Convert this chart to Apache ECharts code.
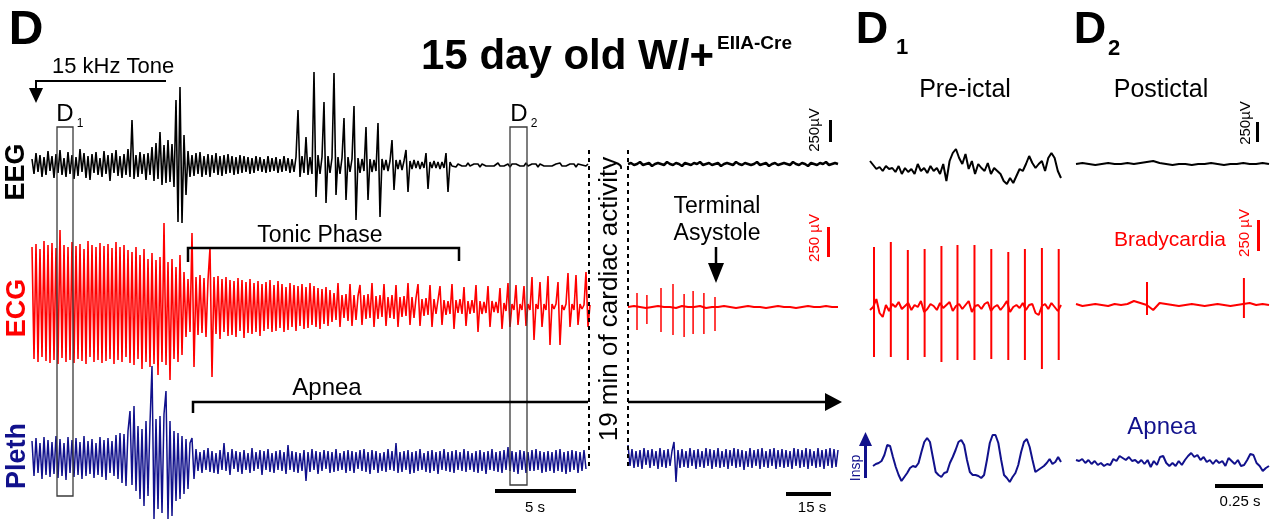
<!DOCTYPE html>
<html>
<head>
<meta charset="utf-8">
<title>15 day old W/+ EIIA-Cre</title>
<script src="https://cdn.jsdelivr.net/npm/echarts@6/dist/echarts.min.js"></script>
<style>
  html, body { margin: 0; background: #fff; }
  #chart { width: 1279px; height: 520px; }
</style>
</head>
<body>
<div id="chart"></div>
<script>
// amplitudes are in trace units (1 unit ~ 1/25 of the 250 uV bar for EEG), time in seconds
// main recording: one sample every 0.125 s, alternating peak/trough of the trace
const MAIN_STEP = 0.125;
const eegMain = [
  6,-9,12,-7,10,-12,8,-10,14,-6,
  9,-13,11,-8,15,-10,7,-12,13,-9,
  10,-14,8,-11,16,-7,12,-13,9,-15,
  11,-8,13,-10,7,-12,14,-9,10,-16,
  12,-8,15,-11,9,-13,11,-10,16,-12,
  45,-14,10,-12,13,-9,11,-15,12,-10,
  18,-16,22,-14,33,-20,20,-18,25,-17,
  21,-22,65,-57,78,-58,30,-30,14,-12,
  10,-11,12,-9,13,-12,9,-10,11,-12,
  10,-8,12,-10,9,-11,10,-9,11,-8,
  9,-10,8,-9,10,-8,9,-7,8,-9,
  7,-8,9,-6,8,-7,6,-8,9,-7,
  7,-6,8,-8,6,-7,9,-6,7,-8,
  6,-7,8,55,-12,9,-8,28,-10,8,
  -9,93,-32,10,-9,8,63,-38,9,-8,
  7,92,-30,8,-9,7,47,-35,8,-7,
  6,59,-55,7,-8,6,-6,38,-35,6,
  -7,5,-6,42,-52,6,-5,5,-6,4,
  25,-25,5,-4,5,-5,4,15,-27,4,
  -4,5,-3,4,-4,3,-3,12,-24,3,
  -3,4,-3,3,-4,3,-3,12,-27,3,
  -1,1,-2,1,0,-1,1,-1,2,-1,
  0,1,-1,1,-2,1,0,-1,1,-1,
  1,-1,0,2,-1,1,-1,0,1,-2,
  1,-1,1,0,-1,1,-1,2,-1,0,
  1,-1,1,-2,1,0,-1,1,-1,1,
  -1,0,1,-1,2,-1,1,-1,0,1,
  -1,1,-2,1,-1,0,1,-1,1
];
const ecgMain = [
  60,-52,63,-55,58,-50,66,-54,62,-56,
  64,-53,59,-57,77,-51,62,-55,60,-53,
  65,-56,61,-52,63,-54,58,-57,66,-50,
  62,-55,60,-53,64,-56,61,-54,63,-52,
  59,-57,65,-53,60,-55,62,-50,57,-56,
  55,-58,60,-52,52,-62,58,-55,48,-60,
  54,-57,47,-68,50,-55,84,-58,45,-73,
  48,-52,40,-55,52,-48,35,-30,28,-25,
  74,-60,30,-28,32,-26,29,-30,27,59,
  -70,30,-27,31,-32,28,-25,30,-29,27,
  -28,26,-30,29,-24,27,-31,25,-26,28,
  -27,24,-25,26,-29,23,-24,25,-22,27,
  -25,22,-24,26,-21,23,-25,20,-23,24,
  -20,22,-24,21,-19,23,-22,20,-21,24,
  -18,21,-20,19,-22,18,-17,20,-19,17,
  -15,14,-13,24,-20,12,-11,13,-14,23,
  -19,12,-13,11,22,-18,12,-12,13,-11,
  24,-20,11,-12,12,-10,23,-19,10,-11,
  12,-12,22,-20,10,-10,11,-9,24,-18,
  10,-11,9,23,-19,8,-9,9,-8,22,
  -20,8,-7,7,21,-18,7,-8,6,-7,
  23,-22,7,-6,8,-7,20,-19,6,-7,
  7,-6,22,-25,6,-7,5,-6,21,-20,
  6,-5,5,-6,19,-22,4,-4,24,-20,
  3,-3,22,-18,3,-3,21,-19,3,-3,
  30,-33,3,-2,25,-20,3,-3,31,-38,
  3,-2,3,25,-38,2,-3,3,34,-20,
  3,-3,32,-18,3,-2,2,35,-20,2
];
const plethMain = [
  20,-15,23,-12,18,-18,24,-14,21,-16,
  19,-13,25,-17,22,-15,18,-19,24,-12,
  21,-16,23,-14,19,-18,25,-15,20,-13,
  22,-17,18,-14,24,-16,21,-19,23,-12,
  20,-15,26,-18,28,-22,27,-25,30,50,
  -24,55,-30,35,-38,32,-45,40,-35,38,
  95,-58,42,-48,45,-52,47,70,-58,40,
  -55,30,-40,28,-38,25,-33,22,-28,18,
  23,-18,12,-10,9,-12,11,-9,13,-11,
  10,-12,8,-13,11,-9,18,-10,9,-14,
  12,-8,10,-11,9,-13,11,-9,8,-12,
  13,-10,9,-8,11,-14,10,-9,12,-11,
  8,-12,10,-9,11,-10,9,-13,16,-9,
  10,-11,9,-12,8,-10,11,-20,9,-11,
  12,-9,10,-13,9,-10,11,-8,10,-12,
  9,-11,12,-10,8,-9,10,-12,11,-10,
  10,-12,9,-8,11,-10,12,-11,9,-13,
  11,-9,10,-12,8,-10,9,-11,12,-9,
  10,-10,18,-12,9,-11,10,-9,11,-13,
  9,-12,10,-10,12,-9,8,-11,10,-12,
  11,-10,9,-13,10,-9,12,-10,9,-11,
  10,-12,11,-9,9,-10,12,-11,10,-9,
  8,-11,10,-12,11,-10,9,-13,10,-9,
  12,-10,9,-11,10,-12,11,-9,14,-10,
  10,-11,9,-13,11,-9,10,-12,9,-10,
  11,-10,12,-9,10,-12,9,-11,10,-10,
  9,-12,11,-10,12,-11,9,-13,10,-11,
  11,-9,10,-12,9,-10,11,-8
];

// after the 19 min gap (70 s shown)
const eegGap = [
  0,1,-1,0,2,-1,0,1,-2,0, 1,0,-1,2,0,-1,1,0,-2,1,
  0,-1,1,0,2,-1,0,1,-1,0, 1,-2,0,1,0,-1,2,0,-1,1,
  0,-1,0,2,-1,0,1,-2,0,1, -1,0,1,0,-1,2,0,-1,1,0,
  -2,1,0,-1,1,0,2,-1,0,1, 0
];
const ecgGapBase = [0,1,0,-1,0,1,0,0,-1,1,0,0,1,-1,0,0,1,0,-1,0,1,0,0,-1,0,1,0,0,-1,0,1,0,0,1,0,0];
const ecgGapBeatT = [3, 6.3, 11, 15, 18.7, 21.7, 25.3, 29];
const ecgGapBeatTop = [14, 12, 19, 23, 13, 16, 14, 10];
const ecgGapBeatBottom = [-23, -17, -25, -28, -30, -27, -27, -24];
const plethGap = [
  13,-8,9,-10,7,-9,8,-11,10,-7, 8,-10,9,-8,7,-11,10,-9,8,-10,
  9,-8,7,16,-24,8,-10,9,-9,7, -10,10,-8,8,-11,9,-9,7,-10,10,
  -8,9,-11,8,-9,10,-10,7,-9,9, -11,8,-8,10,-10,9,-9,8,-12,7,
  -9,10,-10,8,-8,9,-11,10,-9,7, -10,9,-8,10,-11,8,-9,9,-10,8,
  -9,7,-11,10,-8,9,-10,8,-9,10, -11,9,-8,7,-10,10,-9,8,-11,9,
  -8,10,-10,9,-9,8
];

// D1 pre-ictal (1 s)
const eegD1 = [5,1,-3,-1,-5,0,-3,-2,-6,0,-8,-2,-6,-3,-8,2,-5,-2,-7,0,-5,-2,-8,2,-15,5,13,17,8,2,12,-3,5,-8,2,-2,-5,3,-8,-2,-5,-8,-15,-18,-12,-17,-10,-3,-5,2,10,3,-2,2,5,-5,8,13,8,-5,-12];
const ecgD1Base = [-3,0,8,-6,-10,2,-4,3,0,5,-2,1,4,-3,2,0,6,-5,-2,3,1,-3,4,-1,2,5,-4,1,3,-2,2,6,-5,1,2,-2,3,5,-4,0,2,-3,1,6,-5,0,2,-1,4,-3,2,3,-6,-8,1,3,-2,4,0,-4,2];
const ecgD1BeatT = [0.021, 0.109, 0.198, 0.286, 0.374, 0.458, 0.547, 0.635, 0.724, 0.811, 0.9, 0.988];
const ecgD1BeatTop = [60, 65, 57, 58, 61, 62, 62, 58, 55, 58, 59, 58];
const ecgD1BeatBottom = [-50, -50, -53, -50, -55, -53, -53, -52, -53, -53, -62, -53];
const plethD1 = [-1,1,2,4,10,20,19,8,-2,-10,-16,-12,-8,-3,-1,-2,2,13,23,27,23,8,-7,-10,-12,-8,-7,2,8,15,23,25,20,5,-7,-10,-10,-11,-13,-10,5,22,30,30,22,5,-10,-13,-17,-12,-8,0,13,23,26,18,5,-7,-5,-3,-1,2,6,1,3,8,3];

// D2 postictal (1 s)
const eegD2 = [0,1,0,-1,0,1,0,0,1,0,1,2,3,1,0,-1,0,0,-1,0,0,1,0,-1,0,0,1,0,0,1,0];
const ecgD2Base = [1,-1,0,1,0,-1,1,0,1,4,2,0,-5,2,1,0,-1,0,1,0,-1,0,1,0,-1,0,1,2,0,1,0];
const ecgD2BeatT = [0.368, 0.87];
const ecgD2BeatTop = [23, 27];
const ecgD2BeatBottom = [-10, -13];
const plethD2 = [3,2,4,0,3,-1,2,-2,0,-3,-1,-2,4,2,7,5,3,6,2,3,0,3,-1,3,-4,2,-2,6,7,0,-3,0,-3,2,-2,3,7,10,6,8,3,6,1,3,-1,3,0,2,-3,5,2,-1,3,-3,-2,3,9,8,0,-3,-8,-5,-3];

const FONT = '"Liberation Sans", Arial, sans-serif';
const RED = '#ff0000';
const NAVY = '#11118c';

const grids = [], xAxes = [], yAxes = [], series = [];

function addPanel(left, width, tMax, base) {
  const i = grids.length;
  grids.push({ left: left, top: base - 100, width: width, height: 200, outerBoundsMode: 'none' });
  xAxes.push({ gridIndex: i, type: 'value', min: 0, max: tMax, show: false });
  yAxes.push({ gridIndex: i, type: 'value', min: -100, max: 100, show: false });
  return i;
}

function addTrace(idx, values, step, color, width) {
  series.push({
    type: 'line', xAxisIndex: idx, yAxisIndex: idx,
    data: values.map((v, k) => [k * step, v]),
    showSymbol: false, symbol: 'none', silent: true, animation: false,
    lineStyle: { color: color, width: width, join: 'bevel' }, itemStyle: { color: color }
  });
}

function addBeats(idx, ts, tops, bottoms, color, width) {
  series.push({
    type: 'custom', xAxisIndex: idx, yAxisIndex: idx, silent: true, animation: false,
    data: ts.map((t, k) => [t, tops[k], bottoms[k]]),
    encode: { x: 0, y: [1, 2] },
    renderItem: function (params, api) {
      const a = api.coord([api.value(0), api.value(1)]);
      const b = api.coord([api.value(0), api.value(2)]);
      return { type: 'line', shape: { x1: a[0], y1: a[1], x2: b[0], y2: b[1] },
        style: { stroke: color, lineWidth: width } };
    }
  });
}

// main recording
let g = addPanel(32, 560, 35, 165);
addTrace(g, eegMain, MAIN_STEP, '#000', 1.6);
g = addPanel(32, 560, 35, 307);
addTrace(g, ecgMain, MAIN_STEP, RED, 1.6);
g = addPanel(32, 560, 35, 461);
addTrace(g, plethMain, MAIN_STEP, NAVY, 1.5);

// after gap
g = addPanel(628, 210, 70, 164);
addTrace(g, eegGap, 1, '#000', 2.5);
g = addPanel(628, 210, 70, 307);
addTrace(g, ecgGapBase, 2, RED, 2);
addBeats(g, ecgGapBeatT, ecgGapBeatTop, ecgGapBeatBottom, RED, 1.5);
g = addPanel(628, 210, 70, 458);
addTrace(g, plethGap, 2 / 3, NAVY, 1.5);

// D1
g = addPanel(870, 191, 1, 166);
addTrace(g, eegD1, 1 / (eegD1.length - 1), '#000', 2);
g = addPanel(870, 191, 1, 307);
addTrace(g, ecgD1Base, 1 / (ecgD1Base.length - 1), RED, 2);
addBeats(g, ecgD1BeatT, ecgD1BeatTop, ecgD1BeatBottom, RED, 2);
g = addPanel(873, 188, 1, 465);
addTrace(g, plethD1, 1 / (plethD1.length - 1), NAVY, 2);

// D2
g = addPanel(1076, 193, 1, 164);
addTrace(g, eegD2, 1 / (eegD2.length - 1), '#000', 2);
g = addPanel(1076, 193, 1, 305);
addTrace(g, ecgD2Base, 1 / (ecgD2Base.length - 1), RED, 2);
addBeats(g, ecgD2BeatT, ecgD2BeatTop, ecgD2BeatBottom, RED, 2);
g = addPanel(1076, 193, 1, 463);
addTrace(g, plethD2, 1 / (plethD2.length - 1), NAVY, 2);

function txt(text, x, y, size, o) {
  o = o || {};
  return {
    type: 'text', x: x, y: y, rotation: o.rot || 0, z: 100, silent: true,
    style: {
      text: text, fill: o.color || '#000',
      font: (o.bold ? 'bold ' : '') + size + 'px ' + FONT,
      textAlign: o.align || 'center', align: o.align || 'center',
      textVerticalAlign: 'middle', verticalAlign: 'middle'
    }
  };
}
function seg(points, width, color, dash) {
  return { type: 'polyline', z: 100, silent: true, shape: { points: points },
    style: { stroke: color || '#000', lineWidth: width, fill: null, lineDash: dash || null } };
}
function tri(points, color) {
  return { type: 'polygon', z: 100, silent: true, shape: { points: points }, style: { fill: color || '#000' } };
}
function bar(x, y, w, h, color) {
  return { type: 'rect', z: 100, silent: true, shape: { x: x, y: y, width: w, height: h }, style: { fill: color || '#000' } };
}
function box(x, y, w, h) {
  return { type: 'rect', z: 100, silent: true, shape: { x: x, y: y, width: w, height: h },
    style: { fill: 'none', stroke: '#3a3a3a', lineWidth: 1.3 } };
}

const UP = Math.PI / 2;
const graphic = [
  txt('D', 26, 31, 48, { bold: true }),
  txt('15 day old W/+', 421, 57, 42, { bold: true, align: 'left' }),
  txt('EIIA-Cre', 717, 44, 19, { bold: true, align: 'left' }),

  txt('15 kHz Tone', 52, 67, 22, { align: 'left' }),
  seg([[166, 81], [36, 81], [36, 90]], 2),
  tri([[29, 88], [43, 88], [36, 103]]),

  txt('D', 65, 114, 24), txt('1', 80, 124, 12),
  box(57, 127, 16, 369),
  txt('D', 519, 114, 24), txt('2', 534, 124, 12),
  box(510, 127, 17, 358),

  seg([[589, 150], [589, 470]], 2, '#000', [4, 4]),
  seg([[628, 150], [628, 470]], 2, '#000', [4, 4]),
  txt('19 min of cardiac activity', 610, 299, 26, { rot: UP }),

  txt('Tonic Phase', 320, 236, 23),
  seg([[188, 262], [188, 248], [459, 248], [459, 261]], 2.5),

  txt('Apnea', 327, 388, 24),
  seg([[193, 413], [193, 402], [588, 402]], 2.5),
  seg([[628, 402], [828, 402]], 2.5),
  tri([[825, 393], [842, 402], [825, 411]]),

  txt('Terminal', 717, 207, 23),
  txt('Asystole', 717, 234, 23),
  seg([[716, 247], [716, 266]], 2.5),
  tri([[708, 263], [724, 263], [716, 283]]),

  txt('250µV', 815, 130, 15, { rot: UP }),
  bar(829, 120, 3, 22),
  txt('250 µV', 815, 238, 15, { rot: UP, color: RED }),
  bar(827, 227, 3, 30, RED),

  bar(495, 489, 81, 4), txt('5 s', 535, 508, 15),
  bar(786, 492, 45, 4), txt('15 s', 812, 508, 15),

  txt('EEG', 17, 172, 27, { bold: true, rot: UP }),
  txt('ECG', 18, 308, 27, { bold: true, rot: UP, color: RED }),
  txt('Pleth', 18, 456, 27, { bold: true, rot: UP, color: NAVY }),

  txt('D', 872, 31, 45, { bold: true }), txt('1', 902, 48, 22, { bold: true }),
  txt('D', 1090, 31, 45, { bold: true }), txt('2', 1114, 49, 22, { bold: true }),
  txt('Pre-ictal', 965, 90, 25),
  txt('Postictal', 1161, 90, 25),

  txt('250µV', 1246, 123, 15, { rot: UP }),
  bar(1256, 122, 3, 20),
  txt('Bradycardia', 1170, 240, 21, { color: RED }),
  txt('250 µV', 1245, 233, 15, { rot: UP, color: RED }),
  bar(1257, 220, 3, 31, RED),

  txt('Apnea', 1162, 427, 24, { color: NAVY }),
  bar(864, 444, 3, 34, NAVY),
  tri([[859, 446], [872, 446], [865.5, 432]], NAVY),
  txt('Insp', 856, 468, 14, { rot: UP, color: NAVY }),
  bar(1215, 484, 48, 4), txt('0.25 s', 1240, 502, 15)
];

const chart = echarts.init(document.getElementById('chart'), null, { renderer: 'canvas' });
chart.setOption({
  backgroundColor: '#fff',
  animation: false,
  grid: grids,
  xAxis: xAxes,
  yAxis: yAxes,
  series: series,
  graphic: graphic
});
</script>
</body>
</html>
